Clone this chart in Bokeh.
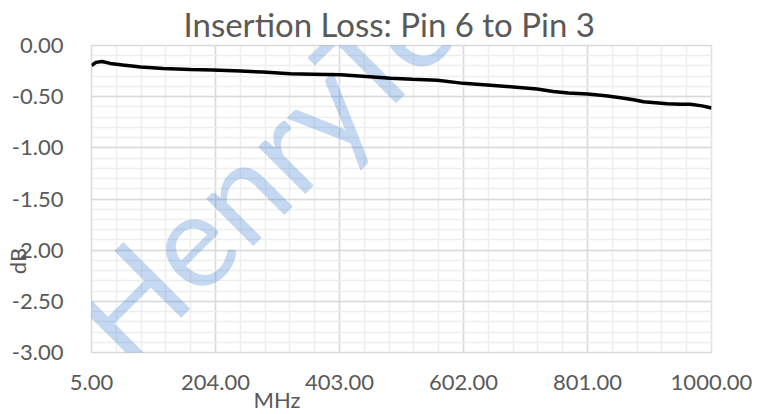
import numpy as np
from bokeh.plotting import figure
from bokeh.models import (FixedTicker, PrintfTickFormatter, Label, Range1d, Title,
                          LinearAxis)
from bokeh.embed import file_html
from bokeh.resources import INLINE

# data
freq_mhz = [5, 12, 22, 35, 55, 84, 120, 164, 200, 244, 280, 324, 360, 405,
            440, 485, 520, 560, 602, 640, 682, 720, 746, 770, 801, 830, 854,
            875, 891, 910, 929, 950, 966, 985, 1000]
loss_db = [-0.195, -0.165, -0.156, -0.175, -0.19, -0.21, -0.225, -0.235, -0.24, -0.25,
           -0.26, -0.277, -0.28, -0.285, -0.30, -0.32, -0.33, -0.34, -0.37, -0.385,
           -0.405, -0.425, -0.45, -0.465, -0.475, -0.49, -0.51, -0.53, -0.55, -0.56,
           -0.57, -0.575, -0.575, -0.59, -0.61]

x_ticks = [5, 204, 403, 602, 801, 1000]
y_ticks = [0.0, -0.5, -1.0, -1.5, -2.0, -2.5, -3.0]
x_minor = [5 + i * 39.8 for i in range(26)]
y_minor = [-0.1 * i for i in range(31)]

title_text = "Insertion Loss: Pin 6 to Pin 3"
x_label = "MHz"
y_label = "dB"
watermark = "HenryTe"

FONT = "Lato"
GREY = "#595959"
W, H = 764, 414

p = figure(width=W, height=H, output_backend="svg", toolbar_location=None,
           x_range=Range1d(5, 1000), y_range=Range1d(-3, 0),
           min_border_left=91, min_border_right=53, min_border_top=45, min_border_bottom=62)
p.background_fill_color = "white"
p.border_fill_color = "white"
p.outline_line_color = "#d9d9d9"
p.outline_line_width = 1.5

p.title.text = title_text
p.title.text_font = FONT
p.title.text_font_size = "33px"
p.title.text_font_style = "normal"
p.title.text_color = GREY
p.title.align = "left"
p.title.offset = 92
p.title.standoff = 3

p.xaxis.ticker = FixedTicker(ticks=x_ticks, minor_ticks=x_minor)
p.yaxis.ticker = FixedTicker(ticks=y_ticks, minor_ticks=y_minor)
p.xaxis.formatter = PrintfTickFormatter(format="%.2f")
p.yaxis.formatter = PrintfTickFormatter(format="%.2f")
for ax in (p.xaxis, p.yaxis):
    ax.axis_line_color = None
    ax.major_tick_line_color = None
    ax.minor_tick_line_color = None
    ax.major_tick_out = 0
    ax.major_tick_in = 0
    ax.minor_tick_out = 0
    ax.minor_tick_in = 0
    ax.major_label_text_font = FONT
    ax.major_label_text_font_size = "22px"
    ax.major_label_text_color = GREY
p.yaxis.major_label_standoff = 28
p.xaxis.major_label_standoff = 22

for g in (p.xgrid, p.ygrid):
    g.grid_line_color = "#d9d9d9"
    g.grid_line_width = 1.5
    g.minor_grid_line_color = "#eeeeee"
    g.minor_grid_line_width = 1.5

wm = Label(x=91, y=335, x_units="canvas", y_units="canvas", text=watermark,
           angle=np.pi / 4, text_font=FONT,
           text_font_size="132px", text_color="#3d7fd4", text_alpha=0.3,
           text_align="left", text_baseline="alphabetic", level="underlay")
p.add_layout(wm)

p.line(freq_mhz, loss_db, line_color="black", line_width=3.5)

xt = Title(text=x_label, align="left", offset=162, standoff=-18, text_font=FONT,
           text_font_size="22px", text_font_style="normal", text_color=GREY)
p.add_layout(xt, "below")

# label-only axis for "dB"; trailing no-break spaces push the word below centre
db_axis = LinearAxis(ticker=FixedTicker(ticks=[]),
                     axis_label=y_label + "\u00a0" * 22, axis_label_standoff=-22,
                     axis_label_text_font=FONT, axis_label_text_font_size="22px",
                     axis_label_text_font_style="normal", axis_label_text_color=GREY,
                     axis_line_color=None, major_tick_line_color=None,
                     minor_tick_line_color=None, major_tick_out=0, minor_tick_out=0,
                     major_label_text_font_size="0px")
p.add_layout(db_axis, "left")

open("out.html", "w").write(file_html(p, INLINE))
